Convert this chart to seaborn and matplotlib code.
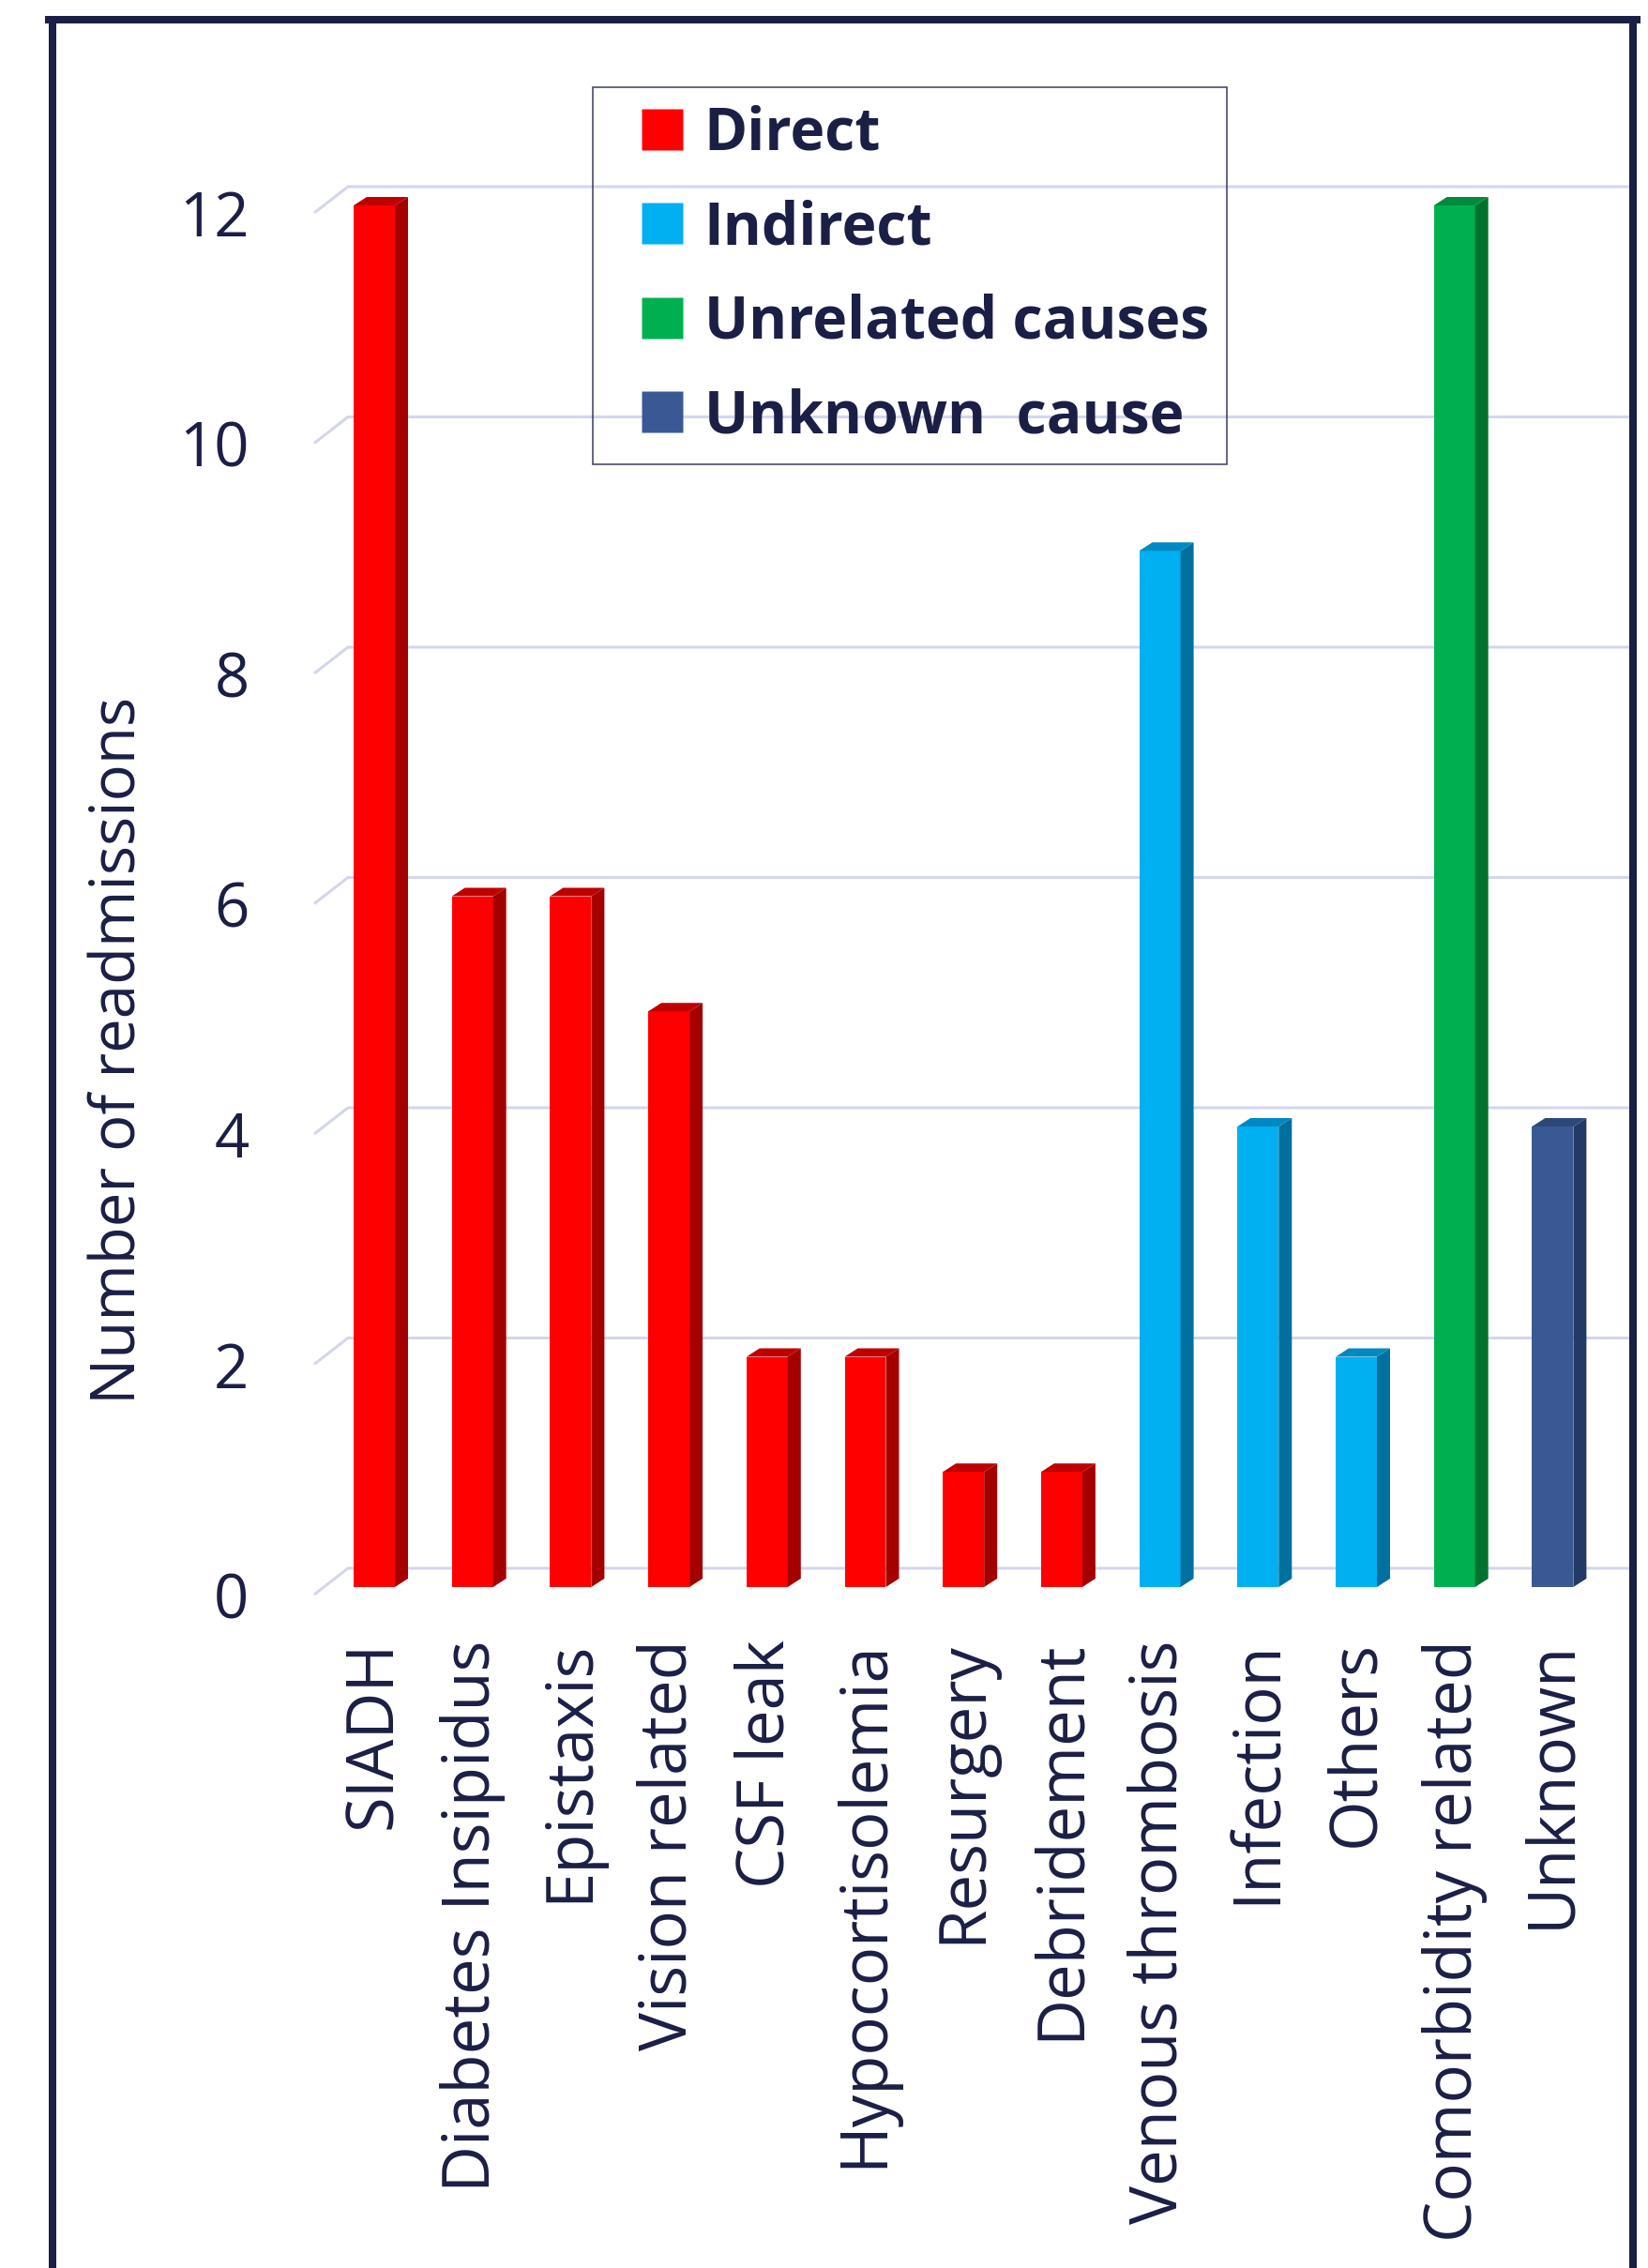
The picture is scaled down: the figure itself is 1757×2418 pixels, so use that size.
import matplotlib
matplotlib.use("Agg")
import matplotlib.pyplot as plt
import matplotlib.transforms as mtransforms
from matplotlib.patches import Polygon
from matplotlib.lines import Line2D
from matplotlib.colors import to_hex
import seaborn as sns
import pandas as pd

# ---- data -------------------------------------------------------------
categories = ["SIADH", "Diabetes Insipidus", "Epistaxis", "Vision related",
              "CSF leak", "Hypocortisolemia", "Resurgery", "Debridement",
              "Venous thrombosis", "Infection", "Others",
              "Comorbidity related", "Unknown"]
readmissions = [12, 6, 6, 5, 2, 2, 1, 1, 9, 4, 2, 12, 4]
cause_group = (["Direct"] * 8 + ["Indirect"] * 3
               + ["Unrelated causes", "Unknown  cause"])

group_order = ["Direct", "Indirect", "Unrelated causes", "Unknown  cause"]
front_colors = ["#ff0000", "#00b0f0", "#00b050", "#3a5894"]
side_colors = ["#a50000", "#00709e", "#00732f", "#243a66"]
top_colors = ["#c00000", "#0088c0", "#008a3c", "#2d4878"]

y_ticks = [0, 2, 4, 6, 8, 10, 12]
y_label = "Number of readmissions"

# ---- style ------------------------------------------------------------
TEXT = "#1b1f45"
GRID = "#d3d6ee"
W, H, DPI = 1758, 2418, 100

sns.set_theme(style="white")
plt.rcParams["font.family"] = ["Open Sans", "DejaVu Sans"]
plt.rcParams["text.color"] = TEXT
plt.rcParams["axes.labelcolor"] = TEXT
plt.rcParams["xtick.color"] = TEXT
plt.rcParams["ytick.color"] = TEXT

fig = plt.figure(figsize=(W / DPI, H / DPI), dpi=DPI)
fig.patch.set_facecolor("white")

# axes box in pixels (left, right, bottom, top measured from the top edge)
AX_L, AX_R, AX_B, AX_T = 335, 1737, 1700, 100
ax = fig.add_axes([AX_L / W, 1 - AX_B / H, (AX_R - AX_L) / W, (AX_B - AX_T) / H])

PX_PER_X = 104.7      # pixels per category step
PX_PER_Y = 122.75     # pixels per readmission
FRONT_DROP = 8        # front floor edge lies this many px below the bar base
FIRST_X = 399         # pixel centre of the first bar's front face

df = pd.DataFrame({"category": categories,
                   "readmissions": readmissions,
                   "group": cause_group})

sns.barplot(data=df, x="category", y="readmissions", hue="group",
            hue_order=group_order, order=categories,
            palette=dict(zip(group_order, front_colors)),
            dodge=False, width=0.42, saturation=1, legend=False,
            linewidth=0, ax=ax, zorder=3)

ax.set_xlim(-(FIRST_X - AX_L) / PX_PER_X, (AX_R - FIRST_X) / PX_PER_X)
ax.set_ylim(-FRONT_DROP / PX_PER_Y, (AX_B - FRONT_DROP - AX_T) / PX_PER_Y)

# ---- 3-D side and top faces of every bar ------------------------------
sdx = 14 / PX_PER_X
sdy = 9 / PX_PER_Y
front_hex = [to_hex(c) for c in front_colors]
for p in list(ax.patches):
    h = p.get_height()
    if h <= 0:
        continue
    x0 = p.get_x()
    x1 = x0 + p.get_width()
    gi = front_hex.index(to_hex(p.get_facecolor()))
    side = Polygon([(x1, 0), (x1 + sdx, sdy), (x1 + sdx, h + sdy), (x1, h)],
                   closed=True, facecolor=side_colors[gi], edgecolor="none",
                   zorder=3)
    top = Polygon([(x0, h), (x0 + sdx, h + sdy), (x1 + sdx, h + sdy), (x1, h)],
                  closed=True, facecolor=top_colors[gi], edgecolor="none",
                  zorder=3)
    ax.add_patch(side)
    ax.add_patch(top)

# ---- back-wall gridlines with a slanted floor edge on the left --------
back_rise = 20 / PX_PER_Y                 # back wall sits 20 px above the bar base
back_x = -(FIRST_X - 371) / PX_PER_X      # left end of the back wall
xl, xr = ax.get_xlim()
for v in y_ticks:
    ax.plot([xl, back_x, xr],
            [v - FRONT_DROP / PX_PER_Y, v + back_rise, v + back_rise],
            color=GRID, lw=2.2, zorder=1, solid_capstyle="butt", clip_on=False)

# ---- axes and labels --------------------------------------------------
for s in ax.spines.values():
    s.set_visible(False)
ax.grid(False)
ax.set_facecolor("none")

FS = 47
ax.set_yticks(y_ticks)
ax.set_yticklabels([str(v) for v in y_ticks], fontsize=FS)
ax.tick_params(axis="y", length=0, pad=50)
shift = mtransforms.ScaledTranslation(0, -FRONT_DROP / DPI, fig.dpi_scale_trans)
for lab in ax.get_yticklabels():
    lab.set_transform(lab.get_transform() + shift)

ax.set_xticks(range(len(categories)))
ax.set_xticklabels(categories, rotation=90, fontsize=49.5)
ax.tick_params(axis="x", length=0, pad=35)
ax.set_xlabel("")

ax.set_ylabel(y_label, fontsize=FS)
ax.yaxis.set_label_coords((160 - AX_L) / (AX_R - AX_L), (AX_B - 1120) / (AX_B - AX_T))

# legend: square swatches centred in a wide handle box
handles = [Line2D([], [], linestyle="none", marker="s", markersize=31,
                  markerfacecolor=c, markeredgecolor="none")
           for c in front_colors]
leg = ax.legend(handles, group_order, loc="upper left",
                bbox_to_anchor=(632 / W, 1 - 93 / H),
                bbox_transform=fig.transFigure, borderaxespad=0,
                frameon=True, fancybox=False, edgecolor=TEXT, facecolor="none",
                prop={"weight": "bold", "size": 45},
                handlelength=1.78, handletextpad=-0.18,
                labelspacing=0.6, borderpad=0.3)
leg.get_frame().set_linewidth(1.2)
for t in leg.get_texts():
    t.set_color(TEXT)

# ---- dark outer frame (open at the bottom) ----------------------------
fy = 1 - 21 / H
for xs, ys in [([56 / W, 56 / W], [fy, -0.02]),
               ([52 / W, 1745 / W], [fy, fy]),
               ([1741 / W, 1741 / W], [fy, -0.02])]:
    fig.add_artist(Line2D(xs, ys, transform=fig.transFigure, color=TEXT,
                          lw=8 * 72 / DPI, solid_capstyle="projecting"))

fig.savefig("out.png", dpi=DPI, facecolor="white")
